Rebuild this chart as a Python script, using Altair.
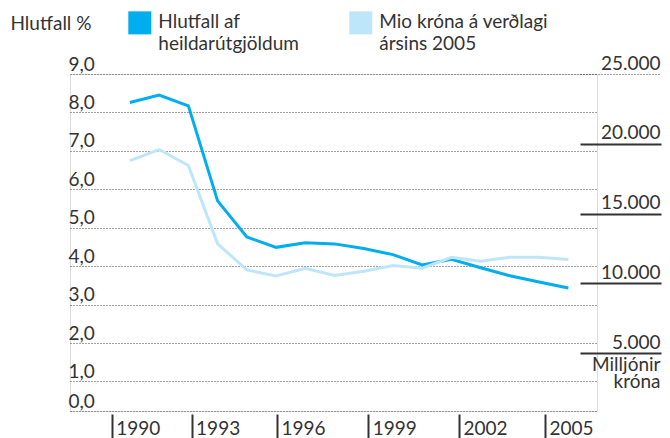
import altair as alt
import pandas as pd

years = list(range(1990, 2006))
share_pct = [8.26, 8.45, 8.17, 5.70, 4.76, 4.49, 4.61, 4.58, 4.46, 4.30, 4.03, 4.18, 3.96, 3.75, 3.59, 3.43]
mio_kr = [18800, 19590, 18450, 12840, 10970, 10540, 11090, 10570, 10870, 11280, 11090, 11880, 11590, 11880, 11880, 11710]

series_names = ["Hlutfall af|heildarútgjöldum", "Mio króna á verðlagi|ársins 2005"]
series_colors = ["#00AEEF", "#BEE6FA"]

left_ticks = [0.232, 1, 2, 3, 4, 5, 6, 7, 8, 9]
right_ticks = [5000, 10000, 15000, 20000, 25000]
x_tick_pos = [1989.38, 1992.11, 1995.03, 1998.15, 2001.26, 2004.2]

FONT = "Lato"
FS = 19
TXT = "#333333"

df_share = pd.DataFrame({"year": years, "value": share_pct, "series": series_names[0]})
df_mio = pd.DataFrame({"year": years, "value": mio_kr, "series": series_names[1]})

x_axis = alt.Axis(
    values=x_tick_pos, orient="bottom", offset=3, domain=False, grid=False,
    ticks=True, tickSize=24, tickWidth=2, tickColor=TXT,
    labelAlign="left", labelBaseline="alphabetic", labelPadding=-3.5, labelOffset=4,
    labelFlush=False, labelOverlap=False,
    labelExpr="format(round(datum.value + 0.7), 'd')",
    labelFont=FONT, labelFontSize=FS, labelColor=TXT, title=None,
)
x_enc = alt.X("year:Q", scale=alt.Scale(domain=[1987.95, 2005.98], nice=False, zero=False), axis=x_axis)

left_axis = alt.Axis(
    values=left_ticks, orient="left", domain=False, ticks=False, tickSize=0,
    grid=True, gridDash=[1, 2], gridColor="#444444", gridWidth=1,
    labelAlign="left", labelBaseline="alphabetic", labelPadding=2, labelOffset=-4,
    labelOverlap=False, labelFlush=False,
    labelExpr="datum.value < 0.5 ? '0,0' : replace(format(datum.value, '.1f'), '.', ',')",
    labelFont=FONT, labelFontSize=FS, labelColor=TXT,
    title="Hlutfall %", titleAngle=0, titleAlign="left", titleBaseline="alphabetic",
    titleX=-60, titleY=-44.7, titleFont=FONT, titleFontSize=FS, titleFontWeight="normal", titleColor=TXT,
)

right_axis = alt.Axis(
    values=right_ticks, orient="right", offset=-17, domain=False, grid=False,
    ticks=True, tickSize=81,
    tickColor={"condition": {"test": "datum.value == 25000", "value": "#444444"}, "value": TXT},
    tickWidth={"condition": {"test": "datum.value == 25000", "value": 1}, "value": 1.8},
    tickDash={"condition": {"test": "datum.value == 25000", "value": [1, 2]}, "value": []},
    labelAlign="right", labelBaseline="alphabetic", labelPadding=-1, labelOffset=-5,
    labelOverlap=False, labelFlush=False,
    labelExpr="replace(format(datum.value, ',d'), ',', '.')",
    labelFont=FONT, labelFontSize=FS, labelColor=TXT,
    title=["Milljónir", "króna"], titleAngle=0, titleAlign="right", titleBaseline="alphabetic",
    titleX=80, titleY=296, titleLineHeight=17,
    titleFont=FONT, titleFontSize=FS, titleFontWeight="normal", titleColor=TXT,
)

line_share = alt.Chart(df_share).mark_line(strokeWidth=3, color=series_colors[0]).encode(
    x=x_enc,
    y=alt.Y("value:Q", scale=alt.Scale(domain=[0.232, 9], nice=False, zero=False), axis=left_axis),
)

line_mio = alt.Chart(df_mio).mark_line(strokeWidth=3, color=series_colors[1]).encode(
    x=x_enc,
    y=alt.Y("value:Q", scale=alt.Scale(domain=[870, 25000], nice=False, zero=False), axis=right_axis),
)

legend_pts = alt.Chart(df_share).mark_square(filled=True, size=0).encode(
    x=x_enc,
    y=alt.Y("value:Q", scale=alt.Scale(domain=[0.232, 9], nice=False, zero=False), axis=None),
    color=alt.Color(
        "series:N",
        scale=alt.Scale(domain=series_names, range=series_colors),
        legend=alt.Legend(
            orient="none", legendX=58.3, legendY=-57.4, direction="horizontal",
            title=None, padding=0, columnPadding=50, labelOffset=7,
            symbolType="M-1,-1.478H1V0.522H-1Z", symbolSize=529, symbolStrokeWidth=0,
            symbolOpacity=1, labelFont=FONT, labelFontSize=FS, labelColor=TXT,
            labelLimit=400, labelBaseline="alphabetic",
            labelExpr="split(datum.label, '|')",
        ),
    ),
)

chart = alt.layer(line_share, line_mio, legend_pts).resolve_scale(y="independent").properties(
    width=527, height=337,
    autosize=alt.AutoSizeParams(type="none"),
    padding={"left": 62, "top": 66, "right": 65, "bottom": 30},
    background="white",
).configure_view(stroke=None).configure(
    style={"guide-label": {"lineHeight": 22}}
)

chart.save("out.html", embed_options={"renderer": "svg", "actions": False})
